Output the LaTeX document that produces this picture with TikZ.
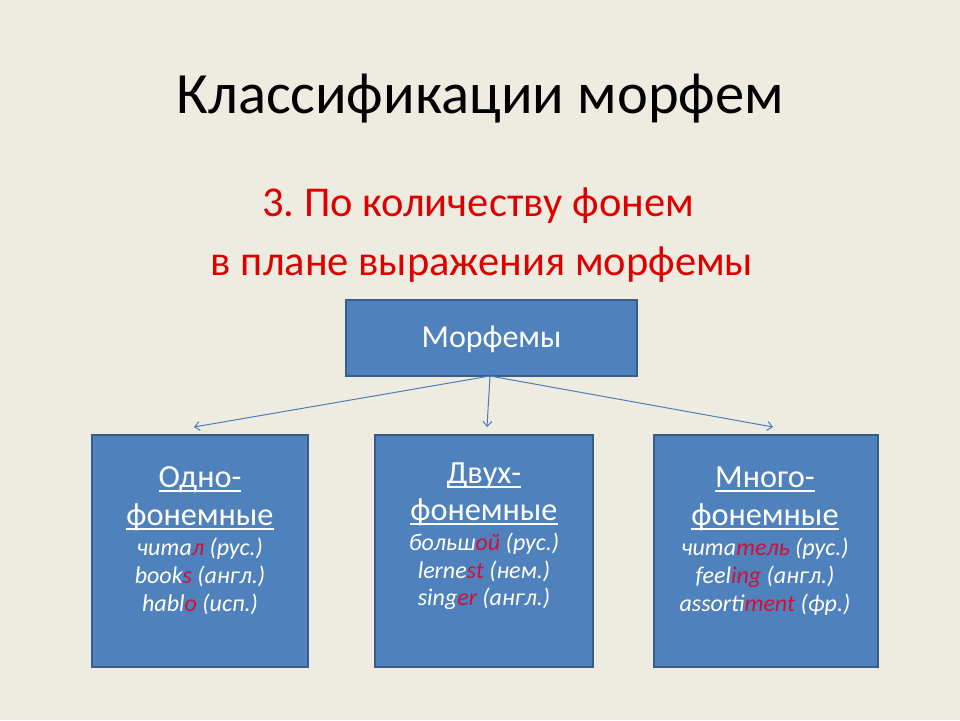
\documentclass[tikz,border=0pt]{standalone}
\usepackage{fontspec}
\setmainfont{Carlito}
\usetikzlibrary{arrows.meta}
\definecolor{bg}{HTML}{EEECE1}
\definecolor{boxfill}{HTML}{4F81BD}
\definecolor{boxline}{HTML}{385D8A}
\definecolor{arrowc}{HTML}{4A7EBB}
\definecolor{titlered}{HTML}{DD0000}
\definecolor{hl}{HTML}{D0103A}
\tikzset{
  blockbox/.style={draw=boxline, fill=boxfill, line width=2pt},
  conn/.style={draw=arrowc, line width=1pt, -{Straight Barb[length=5pt,width=9pt]}},
  head/.style={anchor=base, text=white, font=\fontsize{32.3}{36}\selectfont},
  ex/.style={anchor=base, text=white, font=\fontsize{24}{28}\selectfont\itshape},
}
\newcommand{\hlt}[1]{\textcolor{hl}{#1}}
\newcommand{\myul}[1]{\setbox0\hbox{#1}\rlap{\raisebox{-4.5pt}{\rule{\wd0}{2pt}}}\box0}
\frenchspacing
\begin{document}
\begin{tikzpicture}[x=1pt,y=-1pt]
\fill[bg] (0,0) rectangle (960,720);
\useasboundingbox (0,0) rectangle (960,720);

\node[anchor=base, font=\fontsize{58.5}{70}\selectfont] (title) at (480,113) {Классификации морфем};
\node[anchor=base, text=titlered, font=\fontsize{42.5}{50}\selectfont] (sub1) at (478,216) {3. По количеству фонем};
\node[anchor=base, text=titlered, font=\fontsize{42.5}{50}\selectfont] (sub2) at (482,275) {в плане выражения морфемы};

\path[blockbox] (346,300) rectangle (637,376);
\node[text=white, font=\fontsize{32}{36}\selectfont] (morf) at (491.5,339) {Морфемы};
\coordinate (src) at (490,376);

\path[blockbox] (92,435) rectangle (308,667);
\path[blockbox] (375,435) rectangle (593,667);
\path[blockbox] (654,435) rectangle (878,667);

\coordinate (tL) at (194,427);
\coordinate (tM) at (487,427);
\coordinate (tR) at (773,427);
\draw[conn] (src) -- (tL);
\draw[conn] (src) -- (tM);
\draw[conn] (src) -- (tR);

% left box
\node[head] (l1) at (200,487) {\myul{Одно-}};
\node[head] (l2) at (200,525) {\myul{фонемные}};
\node[ex] (l3) at (200,555) {чита\hlt{л} (рус.)};
\node[ex] (l4) at (200,583) {book\hlt{s} (англ.)};
\node[ex] (l5) at (200,611) {habl\hlt{o} (исп.)};

% middle box
\node[head] (m1) at (484,483) {\myul{Двух-}};
\node[head] (m2) at (484,520) {\myul{фонемные}};
\node[ex] (m3) at (484,550) {больш\hlt{ой} (рус.)};
\node[ex] (m4) at (484,578) {lerne\hlt{st} (нем.)};
\node[ex] (m5) at (484,605) {sing\hlt{er} (англ.)};

% right box
\node[head] (r1) at (765,487) {\myul{Много-}};
\node[head] (r2) at (765,525) {\myul{фонемные}};
\node[ex] (r3) at (765,555) {чита\hlt{тель} (рус.)};
\node[ex] (r4) at (765,583) {feel\hlt{ing} (англ.)};
\node[ex] (r5) at (765,611) {assorti\hlt{ment} (фр.)};
\end{tikzpicture}
\end{document}
